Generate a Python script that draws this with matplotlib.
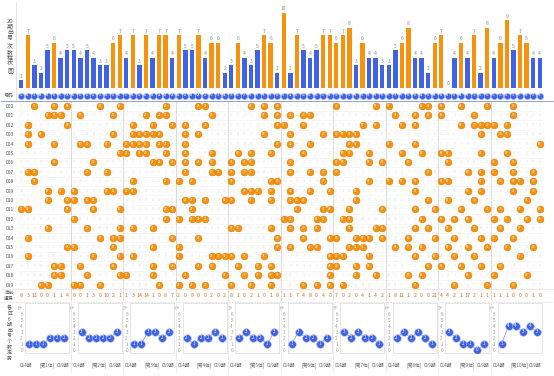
import matplotlib.pyplot as plt
import numpy as np

plt.rcParams['font.family'] = ['Noto Sans CJK SC', 'DejaVu Sans']

# ---- data ----
numbers = [f"{n:02d}" for n in range(1, 81)]
periods = [f"{p:03d}" for p in range(0, 20)]
zone_names = [f"第{z}位" for z in range(1, 11)]

hit_counts = [1, 7, 3, 2, 5, 6, 4, 5, 5, 4, 5, 4, 3, 3, 6, 7, 4, 7, 3, 7,
              4, 7, 7, 4, 7, 5, 5, 7, 4, 6, 6, 2, 3, 6, 4, 3, 5, 7, 6, 2,
              10, 2, 7, 5, 4, 5, 7, 7, 6, 7, 8, 3, 6, 4, 4, 3, 3, 5, 6, 8,
              4, 4, 2, 6, 7, 0, 4, 6, 4, 7, 2, 8, 4, 6, 9, 5, 7, 6, 4, 4]

# drawn column numbers (1-80) per period
draws = [
    [3, 6, 8, 13, 16, 23, 28, 29, 36, 38, 40, 49, 55, 57, 62, 63, 65, 68, 72, 76],
    [5, 6, 7, 10, 15, 20, 22, 23, 30, 38, 40, 42, 44, 45, 58, 61, 63, 65, 70, 76],
    [2, 8, 18, 21, 24, 26, 29, 40, 41, 44, 53, 55, 59, 61, 68, 70, 71, 72, 73, 75],
    [2, 4, 15, 18, 19, 20, 21, 22, 26, 28, 38, 42, 47, 49, 50, 51, 52, 71, 74, 75],
    [2, 6, 10, 11, 14, 17, 18, 19, 20, 22, 23, 26, 40, 42, 45, 51, 52, 57, 61, 80],
    [16, 17, 19, 20, 23, 26, 30, 34, 36, 39, 44, 50, 51, 54, 59, 62, 65, 66, 71, 75],
    [6, 12, 21, 22, 24, 26, 28, 30, 33, 35, 36, 42, 49, 50, 54, 56, 60, 66, 73, 76],
    [2, 3, 11, 14, 26, 30, 31, 33, 35, 36, 42, 45, 47, 49, 63, 69, 71, 73, 76, 79],
    [3, 18, 23, 25, 27, 33, 39, 40, 47, 54, 57, 59, 61, 65, 66, 71, 74, 76, 77, 79],
    [5, 7, 9, 14, 15, 17, 18, 35, 36, 37, 39, 42, 45, 48, 52, 61, 69, 71, 76, 79],
    [5, 8, 9, 11, 12, 26, 27, 29, 32, 33, 36, 39, 42, 43, 44, 52, 63, 66, 70, 78],
    [1, 2, 8, 12, 16, 23, 24, 27, 43, 47, 48, 51, 56, 61, 64, 68, 72, 74, 77, 80],
    [9, 23, 25, 27, 28, 29, 41, 42, 46, 47, 50, 51, 62, 65, 67, 69, 73, 75, 78, 80],
    [5, 11, 16, 18, 21, 33, 34, 39, 42, 44, 46, 51, 55, 56, 61, 63, 66, 70, 74, 77],
    [2, 13, 15, 16, 24, 28, 40, 44, 48, 49, 52, 53, 54, 56, 60, 64, 67, 71, 73, 76],
    [8, 9, 15, 21, 25, 40, 42, 45, 46, 51, 52, 53, 58, 60, 62, 66, 69, 72, 75, 79],
    [2, 12, 16, 18, 25, 30, 31, 32, 33, 35, 38, 48, 49, 50, 54, 61, 64, 67, 70, 77],
    [6, 7, 10, 15, 21, 24, 28, 30, 34, 37, 39, 48, 49, 52, 54, 63, 65, 68, 71, 74],
    [6, 7, 11, 16, 17, 21, 26, 32, 35, 37, 39, 40, 48, 52, 55, 60, 62, 69, 73, 78],
    [4, 5, 9, 10, 13, 22, 25, 27, 29, 33, 36, 39, 44, 46, 48, 50, 61, 67, 72, 76],
]

miss_now = [8, 3, 11, 0, 0, 1, 1, 4, 0, 0, 1, 3, 0, 10, 2, 1, 1, 3, 14, 14,
            1, 0, 8, 7, 2, 0, 8, 0, 0, 2, 0, 2, 8, 1, 0, 2, 1, 0, 1, 8,
            1, 1, 7, 4, 8, 0, 4, 0, 7, 0, 2, 0, 4, 1, 4, 2, 1, 8, 11, 1,
            2, 0, 0, 21, 4, 4, 2, 1, 17, 2, 1, 1, 1, 1, 1, 0, 0, 0, 1, 0]

zone_counts = [
    [1, 1, 1, 2, 2, 2],
    [3, 2, 2, 2, 2, 3],
    [1, 1, 3, 3, 2, 3],
    [2, 1, 2, 2, 3, 2],
    [2, 3, 2, 2, 1, 3],
    [1, 3, 2, 2, 1, 2],
    [3, 2, 3, 2, 2, 1],
    [2, 3, 2, 3, 2, 1],
    [3, 2, 1, 1, 0, 1],
    [1, 4, 4, 3, 4, 3],
]
zone_periods = ["014期", "019期"]

# ---- style ----
BLUE = "#3f62e6"
ORANGE = "#f5930f"
GRID = "#d4d4d4"
TXT = "#666666"

W, H = 554, 376
fig = plt.figure(figsize=(W / 100, H / 100), dpi=100)
fig.patch.set_facecolor("white")


def box(x0, y0, x1, y1):
    # axes placed by pixel box, top-left origin
    return fig.add_axes([x0 / W, 1 - y1 / H, (x1 - x0) / W, (y1 - y0) / H])


left, right = 18, 543
cols = np.arange(80)

# bar chart of counts
ax_bar = box(left, 3, right, 88)
colors = [ORANGE if c >= 6 else BLUE for c in hit_counts]
ax_bar.bar(cols, hit_counts, width=0.66, color=colors, linewidth=0)
for i, c in enumerate(hit_counts):
    ax_bar.text(i, c + 0.25, str(c), ha="center", va="bottom", fontsize=3.6, color="#888888")
ax_bar.set_xlim(-0.5, 79.5)
ax_bar.set_ylim(0, 11.33)
ax_bar.axis("off")

fig.text(10 / W, 1 - 46 / H, "20\n期\n出\n号\n次\n数\n柱\n状\n图", ha="center", va="center",
         fontsize=4.3, color="#555555", linespacing=1.2)
fig.add_artist(plt.Line2D([15.5 / W, 15.5 / W], [1 - 2 / H, 1 - 100 / H], color=GRID, lw=0.5))

# header row of numbers
ax_head = box(left, 90, right, 101)
ax_head.scatter(cols, np.zeros(80), s=20, color=BLUE, edgecolor="#9fb2f5", linewidth=0.5, zorder=3)
for i, n in enumerate(numbers):
    ax_head.text(i, 0, n, ha="center", va="center", fontsize=2.2, color="white", zorder=4)
ax_head.set_xlim(-0.5, 79.5)
ax_head.set_ylim(-1, 1)
ax_head.axis("off")
fig.text(9 / W, 1 - 95.5 / H, "号码", ha="center", va="center", fontsize=3.6, color="#555555")
fig.add_artist(plt.Line2D([1 / W, 553 / W], [1 - 100.5 / H, 1 - 100.5 / H], color="#7f93d8", lw=0.6))

# draw matrix
ax_m = box(left, 101.3, right, 289.3)
ax_m.set_xlim(-0.5, 79.5)
ax_m.set_ylim(19.5, -0.5)
hit = np.zeros((20, 80), dtype=bool)
for r, row in enumerate(draws):
    for n in row:
        hit[r, n - 1] = True
# running omission shown faintly in empty cells
for c in range(80):
    gap = 0
    for r in range(20):
        if hit[r, c]:
            gap = 0
        else:
            gap += 1
            ax_m.text(c, r, str(gap), ha="center", va="center", fontsize=2.6, color="#dcdcdc")
rr, cc = np.nonzero(hit)
ax_m.scatter(cc, rr, s=24, color=ORANGE, edgecolor="#e07800", linewidth=0.4, zorder=3)
for r, c in zip(rr, cc):
    ax_m.text(c, r, numbers[c], ha="center", va="center", fontsize=2.2, color="white", zorder=4)
for r in range(21):
    ax_m.axhline(r - 0.5, color="#f1f1f1", lw=0.4, zorder=0)
for g in range(1, 10):
    ax_m.axvline(g * 8 - 0.5, color=GRID, lw=0.6, zorder=1)
ax_m.set_yticks(range(20))
ax_m.set_yticklabels(periods, fontsize=3.6, color="#555555")
ax_m.set_xticks([])
ax_m.tick_params(length=0, pad=3)
for s in ax_m.spines.values():
    s.set_visible(False)

# current omission row
ax_miss = box(left, 289.3, right, 301)
ax_miss.set_xlim(-0.5, 79.5)
ax_miss.set_ylim(-1, 1)
for i, v in enumerate(miss_now):
    ax_miss.text(i, 0, str(v), ha="center", va="center", fontsize=3.8, color="#d2691e")
for g in range(1, 10):
    ax_miss.axvline(g * 8 - 0.5, color=GRID, lw=0.6)
ax_miss.axis("off")
fig.text(9 / W, 1 - 295.5 / H, "当前\n遗漏", ha="center", va="center", fontsize=3.4,
         color="#555555", linespacing=1.1)
fig.add_artist(plt.Line2D([1 / W, 553 / W], [1 - 289.3 / H, 1 - 289.3 / H], color="#e2e2e2", lw=0.5))
fig.add_artist(plt.Line2D([1 / W, 553 / W], [1 - 301.5 / H, 1 - 301.5 / H], color="#cfcfcf",
                          lw=0.5, ls=(0, (2, 2))))

# zone trend mini charts
fig.text(9.5 / W, 1 - 333 / H, "各\n区\n6\n期\n出\n号\n个\n数\n走\n势", ha="center", va="center",
         fontsize=3.6, color="#555555", linespacing=1.15)
gw = (right - left) / 10
for g in range(10):
    x0 = left + g * gw
    ax = box(x0 + 7, 303, x0 + 51, 353)
    vals = zone_counts[g]
    ax.plot(range(6), vals, color="#8fa0e6", lw=0.6, zorder=2)
    ax.scatter(range(6), vals, s=30, color=BLUE, edgecolor="#a9b9f5", linewidth=0.4, zorder=3)
    for i, v in enumerate(vals):
        ax.text(i, v, str(v), ha="center", va="center", fontsize=3.2, color="white", zorder=4)
    ax.set_xlim(-0.57, 5.67)
    ax.set_ylim(-0.5, 7.78)
    ax.set_yticks(range(8))
    ax.set_yticklabels(["0", "1", "2", "3", "4", "5", "6", "6+"], fontsize=3.3, color="#999999")
    ax.set_xticks([])
    ax.tick_params(length=0, pad=1.5)
    for s in ax.spines.values():
        s.set_color("#d9d9d9")
        s.set_linewidth(0.5)
    fig.text((x0 + 2) / W, 1 - 365 / H, zone_periods[0], ha="left", va="center", fontsize=3.4, color=TXT)
    fig.text((x0 + 29) / W, 1 - 365 / H, f"[{zone_names[g]}]", ha="center", va="center", fontsize=3.4, color=TXT)
    fig.text((x0 + 51) / W, 1 - 365 / H, zone_periods[1], ha="right", va="center", fontsize=3.4, color=TXT)
    if g > 0:
        fig.add_artist(plt.Line2D([x0 / W, x0 / W], [1 - 302 / H, 1 - 372 / H], color="#e6e6e6", lw=0.5))

fig.savefig("out.png", dpi=100, facecolor="white")
